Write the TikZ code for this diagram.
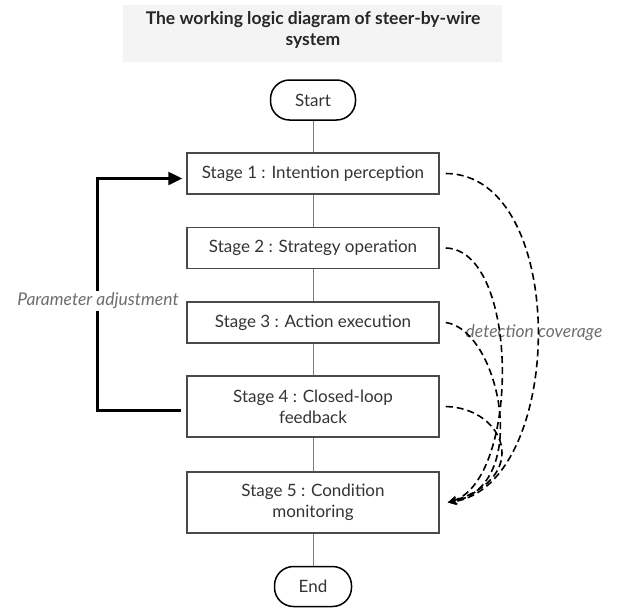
\documentclass[tikz,border=0pt]{standalone}
\usepackage{fontspec}
\setmainfont{Lato}
\usetikzlibrary{arrows.meta}
\definecolor{boxgray}{HTML}{4A4A4A}
\definecolor{txtgray}{HTML}{333333}
\definecolor{labgray}{HTML}{6E6E6E}
\definecolor{titlebg}{HTML}{F5F4F5}
\definecolor{linkgray}{HTML}{7A7A7A}

\begin{document}
\begin{tikzpicture}[x=1pt,y=-1pt,>=Stealth,
  stage/.style={draw=boxgray,line width=1.5pt,minimum width=252pt,minimum height=41pt,inner sep=0pt,align=center,text=txtgray,font=\fontsize{17}{21}\selectfont},
  term/.style={draw=black,line width=1.5pt,rounded corners=19pt,minimum height=40pt,inner sep=0pt,text=txtgray,font=\fontsize{17}{21}\selectfont},
  link/.style={linkgray,line width=0.8pt},
  cover/.style={dash pattern=on 7pt off 4pt,line width=1.6pt,-{Stealth[length=9pt,width=8pt]}},
  note/.style={text=labgray,font=\fontsize{17.5}{21}\selectfont\itshape}]
 \useasboundingbox (0,0) rectangle (618,608);
 % title
 \fill[titlebg] (123,5) rectangle (502,62);
 \node[align=center,text=black!85,font=\fontsize{17.5}{21}\selectfont\bfseries] (title) at (313,30) {The working logic diagram of steer-by-wire\\system};
 % flow
 \node[term,minimum width=85pt] (start) at (313,100) {Start};
 \node[stage] (s1) at (313,173.5) {Stage 1 : Intention perception};
 \node[stage] (s2) at (313,248) {Stage 2 : Strategy operation};
 \node[stage] (s3) at (313,322.5) {Stage 3 : Action execution};
 \node[stage,minimum height=61pt] (s4) at (313,406.5) {Stage 4 : Closed-loop\\feedback};
 \node[stage,minimum height=61pt] (s5) at (313,502.5) {Stage 5 : Condition\\monitoring};
 \node[term,minimum width=77pt] (end) at (313,586.5) {End};
 \draw[link] (start)--(s1);
 \draw[link] (s1)--(s2);
 \draw[link] (s2)--(s3);
 \draw[link] (s3)--(s4);
 \draw[link] (s4)--(s5);
 \draw[link] (s5)--(end);
 % feedback loop
 \draw[line width=2.5pt,-{Triangle[length=14pt,width=13pt]}] ([xshift=-5pt,yshift=-4pt]s4.west)--([xshift=-89pt,yshift=-4pt]s4.west) |- ([xshift=-4pt,yshift=-5pt]s1.west);
 \node[note,fill=white,inner sep=2pt] (adj) at (98,301) {Parameter adjustment};
 % detection coverage
 \node[note] (cov) at (534,333) {detection coverage};
 \draw[cover] ([xshift=6pt]s1.east) .. controls (570,174) and (566,485) .. ([xshift=8pt]s5.east);
 \draw[cover] ([xshift=6pt]s2.east) .. controls (520,250) and (520,480) .. ([xshift=8pt]s5.east);
 \draw[cover] ([xshift=6pt]s3.east) .. controls (500,330) and (532,487) .. ([xshift=8pt]s5.east);
 \draw[cover] ([xshift=6pt]s4.east) .. controls (505,408) and (532,477) .. ([xshift=8pt]s5.east);
\end{tikzpicture}
\end{document}
